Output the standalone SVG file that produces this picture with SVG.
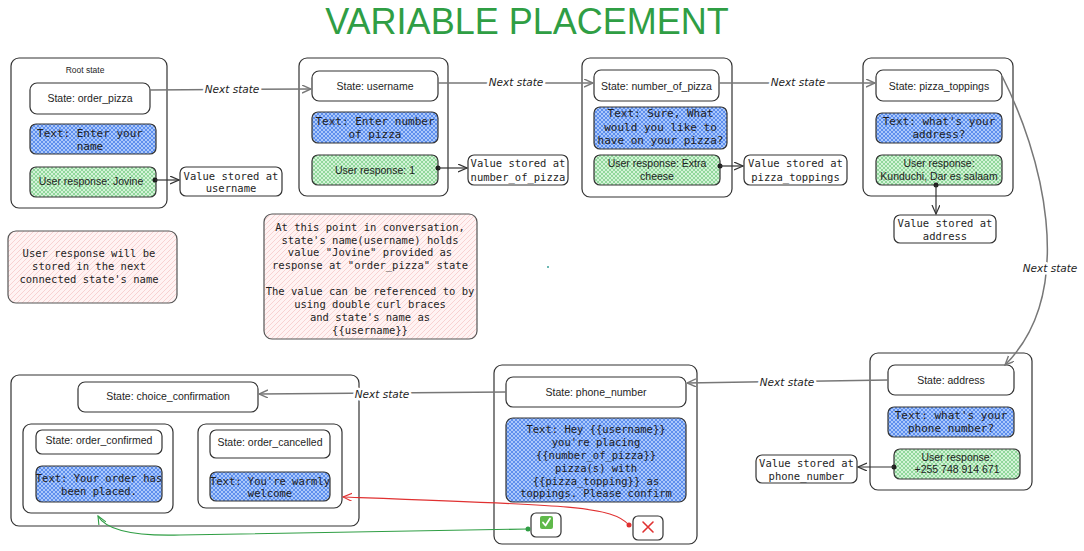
<svg xmlns="http://www.w3.org/2000/svg" width="1084" height="551" viewBox="0 0 1084 551">
<defs>
<pattern id="pBlue" width="4" height="4" patternUnits="userSpaceOnUse">
<rect width="4" height="4" fill="#abc8fb"/>
<path d="M0,0 L4,4 M4,0 L0,4" stroke="#4a80ea" stroke-width="0.8"/>
</pattern>
<pattern id="pGreen" width="4" height="4" patternUnits="userSpaceOnUse">
<rect width="4" height="4" fill="#d3f3d7"/>
<path d="M0,0 L4,4 M4,0 L0,4" stroke="#74cc82" stroke-width="0.7"/>
</pattern>
<pattern id="pPink" width="5" height="5" patternUnits="userSpaceOnUse">
<rect width="5" height="5" fill="#fff3f3"/>
<path d="M0,5 L5,0" stroke="#f5c4c4" stroke-width="0.7"/>
</pattern>
<marker id="aGrey" markerWidth="10" markerHeight="10" refX="9" refY="4" orient="auto" markerUnits="userSpaceOnUse">
<path d="M0,0 L9,4 L0,8" fill="none" stroke="#777" stroke-width="1.4"/>
</marker>
<marker id="aDark" markerWidth="10" markerHeight="10" refX="9" refY="4" orient="auto" markerUnits="userSpaceOnUse">
<path d="M0,0 L9,4 L0,8" fill="none" stroke="#333" stroke-width="1.2"/>
</marker>
<marker id="aRed" markerWidth="10" markerHeight="10" refX="9" refY="4" orient="auto" markerUnits="userSpaceOnUse">
<path d="M0,0 L9,4 L0,8" fill="none" stroke="#e03131" stroke-width="1.1"/>
</marker>
<marker id="aGreen" markerWidth="10" markerHeight="10" refX="9" refY="4" orient="auto" markerUnits="userSpaceOnUse">
<path d="M0,0 L9,4 L0,8" fill="none" stroke="#2f9e44" stroke-width="1.1"/>
</marker>
</defs>
<style>
rect.box{fill:#fff;stroke:#333;stroke-width:1.2}
rect.ctr{fill:#fff;stroke:#333;stroke-width:1.2}
rect.blue{fill:url(#pBlue);stroke:#333;stroke-width:1.2}
rect.green{fill:url(#pGreen);stroke:#333;stroke-width:1.2}
rect.pink{fill:url(#pPink);stroke:#555;stroke-width:1.2}
text{fill:#1e1e1e;text-anchor:middle}
.sans{font-family:"Liberation Sans",Arial,sans-serif;font-size:10.5px}
.mono{font-family:"DejaVu Sans Mono","Liberation Mono",monospace;font-size:10.5px}
.mono11{font-family:"DejaVu Sans Mono","Liberation Mono",monospace;font-size:11px}
.hand{font-family:"DejaVu Sans",sans-serif;font-style:italic;font-size:10.5px;stroke:#fff;stroke-width:5px;paint-order:stroke;stroke-linejoin:round}
.conn{fill:none;stroke:#777;stroke-width:1.5}
.val{fill:none;stroke:#333;stroke-width:1.2}
.dot{fill:#1e1e1e}
</style>
<rect width="1084" height="551" fill="#fff"/>
<text x="527" y="34" style="font-family:'Liberation Sans',Arial,sans-serif;font-size:36px;fill:#2f9e44">VARIABLE PLACEMENT</text>

<g id="node-order_pizza">
<rect class="ctr" x="11" y="58" width="156" height="150" rx="8"/>
<text class="sans" x="85" y="73" style="font-size:8.5px">Root state</text>
<rect class="box" x="30" y="83" width="120" height="31" rx="7"/>
<text class="sans" x="90" y="102">State: order_pizza</text>
<rect class="blue" x="30" y="124" width="126" height="30" rx="6"/>
<text class="mono11" x="90" y="137">Text: Enter your</text>
<text class="mono11" x="90" y="150">name</text>
<rect class="green" x="30" y="167" width="126" height="30" rx="6"/>
<text class="sans" x="91" y="185">User response: Jovine</text>
</g>
<g id="value-username">
<rect class="box" x="180" y="167" width="102" height="29" rx="6"/>
<text class="mono" x="231" y="180">Value stored at</text>
<text class="mono" x="231" y="192">username</text>
</g>

<g id="node-username">
<rect class="ctr" x="299" y="58" width="149" height="138" rx="8"/>
<rect class="box" x="312" y="71" width="126" height="30" rx="7"/>
<text class="sans" x="375" y="90">State: username</text>
<rect class="blue" x="312" y="112" width="126" height="31" rx="6"/>
<text class="mono11" x="375" y="125">Text: Enter number</text>
<text class="mono11" x="375" y="138">of pizza</text>
<rect class="green" x="312" y="155" width="126" height="30" rx="6"/>
<text class="sans" x="375" y="174">User response: 1</text>
</g>
<g id="value-number_of_pizza">
<rect class="box" x="468" y="155" width="100" height="30" rx="6"/>
<text class="mono" x="518" y="167">Value stored at</text>
<text class="mono" x="518" y="181">number_of_pizza</text>
</g>

<g id="node-number_of_pizza">
<rect class="ctr" x="582" y="58" width="150" height="139" rx="8"/>
<rect class="box" x="594" y="70" width="125" height="31" rx="7"/>
<text class="sans" x="656.5" y="89.5">State: number_of_pizza</text>
<rect class="blue" x="594" y="107" width="133" height="42" rx="6"/>
<text class="mono11" x="660.5" y="117">Text: Sure, What</text>
<text class="mono11" x="660.5" y="130.5">would you like to</text>
<text class="mono11" x="660.5" y="144">have on your pizza?</text>
<rect class="green" x="594" y="155" width="126" height="30" rx="6"/>
<text class="sans" x="657" y="167">User response: Extra</text>
<text class="sans" x="657" y="180">cheese</text>
</g>
<g id="value-pizza_toppings">
<rect class="box" x="744" y="155" width="103" height="30" rx="6"/>
<text class="mono" x="795.5" y="167">Value stored at</text>
<text class="mono" x="795.5" y="181">pizza_toppings</text>
</g>

<g id="node-pizza_toppings">
<rect class="ctr" x="863" y="58" width="150" height="138" rx="8"/>
<rect class="box" x="876" y="70" width="126" height="31" rx="7"/>
<text class="sans" x="939" y="89.5">State: pizza_toppings</text>
<rect class="blue" x="876" y="113" width="126" height="30" rx="6"/>
<text class="mono11" x="939" y="125">Text: what's your</text>
<text class="mono11" x="939" y="138">address?</text>
<rect class="green" x="876" y="155" width="126" height="30" rx="6"/>
<text class="sans" x="939" y="167">User response:</text>
<text class="sans" x="939" y="180">Kunduchi, Dar es salaam</text>
</g>
<g id="value-address">
<rect class="box" x="894" y="215" width="102" height="28" rx="6"/>
<text class="mono" x="945" y="227">Value stored at</text>
<text class="mono" x="945" y="240">address</text>
</g>

<g id="node-address">
<rect class="ctr" x="870" y="353" width="162" height="137" rx="8"/>
<rect class="box" x="888" y="365" width="126" height="30" rx="7"/>
<text class="sans" x="951" y="384">State: address</text>
<rect class="blue" x="888" y="407" width="126" height="30" rx="6"/>
<text class="mono11" x="951" y="419">Text: what's your</text>
<text class="mono11" x="951" y="432">phone number?</text>
<rect class="green" x="894" y="449" width="126" height="30" rx="6"/>
<text class="sans" x="957" y="461">User response:</text>
<text class="sans" x="957" y="473">+255 748 914 671</text>
</g>
<g id="value-phone_number">
<rect class="box" x="756" y="455" width="101" height="28" rx="6"/>
<text class="mono" x="806.5" y="467">Value stored at</text>
<text class="mono" x="806.5" y="480">phone_number</text>
</g>

<g id="node-phone_number">
<rect class="ctr" x="494" y="365" width="203" height="179" rx="8"/>
<rect class="box" x="506" y="377" width="180" height="30" rx="7"/>
<text class="sans" x="596" y="396">State: phone_number</text>
<rect class="blue" x="506" y="418" width="180" height="84" rx="7"/>
<text class="mono" x="596" y="433">Text: Hey {{username}}</text>
<text class="mono" x="596" y="446">you're placing</text>
<text class="mono" x="596" y="458.5">{{number_of_pizza}}</text>
<text class="mono" x="596" y="471.5">pizza(s) with</text>
<text class="mono" x="596" y="484.5">{{pizza_topping}} as</text>
<text class="mono" x="596" y="497">toppings. Please confirm</text>
</g>
<g id="button-confirm">
<rect class="box" x="531" y="513" width="30" height="24" rx="5"/>
<rect x="540" y="516" width="13" height="13" rx="2" fill="#5fb94a"/>
<path d="M543,522.5 L545.5,525.5 L550,518.5" fill="none" stroke="#fff" stroke-width="1.8" stroke-linecap="round" stroke-linejoin="round"/>
</g>
<g id="button-cancel">
<rect class="box" x="633" y="516" width="30" height="24" rx="5"/>
<path d="M643,522 L653,532 M653,522 L643,532" stroke="#e03131" stroke-width="1.6" stroke-linecap="round"/>
</g>

<g id="node-choice_confirmation">
<rect class="ctr" x="11" y="375" width="348" height="151" rx="8"/>
<rect class="box" x="78" y="382" width="180" height="30" rx="7"/>
<text class="sans" x="168" y="400">State: choice_confirmation</text>
</g>
<g id="node-order_confirmed">
<rect class="ctr" x="23" y="424" width="150" height="89" rx="8"/>
<rect class="box" x="36" y="430" width="126" height="24" rx="6"/>
<text class="sans" x="99" y="444">State: order_confirmed</text>
<rect class="blue" x="36" y="466" width="126" height="36" rx="6"/>
<text class="mono" x="99" y="482">Text: Your order has</text>
<text class="mono" x="99" y="495">been placed.</text>
</g>
<g id="node-order_cancelled">
<rect class="ctr" x="198" y="424" width="144" height="84" rx="8"/>
<rect class="box" x="210" y="430" width="120" height="28" rx="6"/>
<text class="sans" x="270" y="446">State: order_cancelled</text>
<rect class="blue" x="210" y="472" width="120" height="29" rx="6"/>
<text class="mono" x="270" y="485">Text: You're warmly</text>
<text class="mono" x="270" y="497">welcome</text>
</g>

<g id="note-storage">
<rect class="pink" x="8" y="231" width="169" height="72" rx="8"/>
<text class="mono" x="89" y="257">User response will be</text>
<text class="mono" x="89" y="270">stored in the next</text>
<text class="mono" x="89" y="283">connected state's name</text>
</g>
<g id="note-reference">
<rect class="pink" x="264" y="214" width="213" height="125" rx="8"/>
<text class="mono" x="370" y="231">At this point in conversation,</text>
<text class="mono" x="370" y="243.5">state's name(username) holds</text>
<text class="mono" x="370" y="256">value "Jovine" provided as</text>
<text class="mono" x="370" y="269">response at "order_pizza" state</text>
<text class="mono" x="370" y="295">The value can be referenced to by</text>
<text class="mono" x="370" y="308">using double curl braces</text>
<text class="mono" x="370" y="321">and state's name as</text>
<text class="mono" x="370" y="333.5">{{username}}</text>
</g>
<circle cx="548" cy="267" r="1" fill="#3aa19a"/>

<g id="connectors">
<path class="conn" d="M150,90 L311,89" marker-end="url(#aGrey)"/>
<text class="hand" x="232" y="93">Next state</text>
<path class="conn" d="M438,83 L593,83" marker-end="url(#aGrey)"/>
<text class="hand" x="516" y="86">Next state</text>
<path class="conn" d="M719,83 L875,83" marker-end="url(#aGrey)"/>
<text class="hand" x="798" y="86">Next state</text>
<path class="conn" d="M1002,76 C1040,150 1080,290 1005,365" marker-end="url(#aGrey)"/>
<text class="hand" x="1050" y="272">Next state</text>
<path class="conn" d="M888,380 L687,383" marker-end="url(#aGrey)"/>
<text class="hand" x="787" y="386">Next state</text>
<path class="conn" d="M506,392 L259,394" marker-end="url(#aGrey)"/>
<text class="hand" x="382" y="398">Next state</text>

<circle class="dot" cx="155" cy="180" r="2.5"/>
<path class="val" d="M155,180 L179,180" marker-end="url(#aDark)"/>
<circle class="dot" cx="438" cy="168" r="2.5"/>
<path class="val" d="M438,168 L467,168" marker-end="url(#aDark)"/>
<circle class="dot" cx="720" cy="166" r="2.5"/>
<path class="val" d="M720,166 L743,166" marker-end="url(#aDark)"/>
<circle class="dot" cx="936" cy="185" r="2.5"/>
<path class="val" d="M936,185 L936,214" marker-end="url(#aDark)"/>
<circle class="dot" cx="894" cy="467" r="2.5"/>
<path class="val" d="M894,467 L858,467" marker-end="url(#aDark)"/>

<circle cx="629" cy="525" r="2.5" fill="#e03131"/>
<path d="M629,525 C612,506 570,505 343,497" fill="none" stroke="#e03131" stroke-width="1.1" marker-end="url(#aRed)"/>
<circle cx="528" cy="529" r="2.5" fill="#2f9e44"/>
<path d="M528,529 L180,535 Q110,537 98,516" fill="none" stroke="#2f9e44" stroke-width="1.1" marker-end="url(#aGreen)"/>
</g>
</svg>
